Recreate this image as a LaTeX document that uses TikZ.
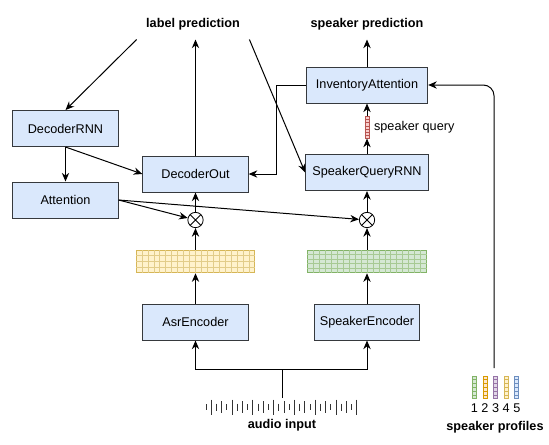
\documentclass[tikz,border=0pt]{standalone}
\usepackage{fontspec}
\setmainfont{Liberation Sans}
\usetikzlibrary{arrows.meta,calc}
\definecolor{boxbg}{HTML}{DAE8FC}
\definecolor{boxln}{HTML}{36393D}
\definecolor{ylwbg}{HTML}{FFF2CC}
\definecolor{ylwln}{HTML}{D6B656}
\definecolor{grnbg}{HTML}{D5E8D4}
\definecolor{grnln}{HTML}{82B366}
\definecolor{redbg}{HTML}{F8CECC}
\definecolor{redln}{HTML}{B85450}
\definecolor{orgbg}{HTML}{FFE6CC}
\definecolor{orgln}{HTML}{D79B00}
\definecolor{purbg}{HTML}{E1D5E7}
\definecolor{purln}{HTML}{9673A6}
\definecolor{blubg}{HTML}{DAE8FC}
\definecolor{bluln}{HTML}{6C8EBF}
\tikzset{
  blk/.style={draw=boxln,fill=boxbg,line width=0.75pt,minimum width=79pt,minimum height=27pt,inner sep=2pt,font=\fontsize{9.5}{11}\selectfont},
  ttl/.style={font=\bfseries\fontsize{9.5}{11}\selectfont,inner sep=7pt},
  txt/.style={font=\fontsize{9.5}{11}\selectfont},
  arr/.style={-{Stealth[length=6.5pt,width=5.5pt]},line width=0.75pt},
  cell/.style={draw=#1ln,fill=#1bg,line width=0.6pt,inner sep=0pt},
  mult/.style={draw,circle,line width=0.6pt,minimum size=11.5pt,inner sep=0pt,
    path picture={\draw (path picture bounding box.north west)--(path picture bounding box.south east)
      (path picture bounding box.north east)--(path picture bounding box.south west);}}
}
\begin{document}
\begin{tikzpicture}[x=0.75pt,y=-0.75pt]
\useasboundingbox (0,0) rectangle (549,444);
\node[ttl] (lp) at (193,24) {label prediction};
\node[ttl] (sp) at (367,24) {speaker prediction};
\node[blk] (drnn) at (65.5,128.5) {DecoderRNN};
\node[blk] (att) at (65.5,200) {Attention};
\node[blk] (dout) at (195.5,174) {DecoderOut};
\node[blk,minimum width=91pt] (inv) at (367,85) {InventoryAttention};
\node[blk,minimum width=92pt] (sqrnn) at (367,172.5) {SpeakerQueryRNN};
\node[blk] (asrenc) at (195.5,322) {AsrEncoder};
\node[blk] (spkenc) at (367,322) {SpeakerEncoder};
\node[mult] (ot1) at (195.5,220) {};
\node[mult] (ot2) at (367,220) {};
\node[cell=ylw,minimum width=88.5pt,minimum height=17pt] (asrf) at (195.5,261.5) {};
\foreach \i in {1,...,19} \draw[draw=ylwln!70,line width=0.6pt] ($(asrf.south west)!{\i/20}!(asrf.south east)$) -- ($(asrf.north west)!{\i/20}!(asrf.north east)$);
\foreach \j in {1,2,3} \draw[draw=ylwln!70,line width=0.6pt] ($(asrf.south west)!{\j/4}!(asrf.north west)$) -- ($(asrf.south east)!{\j/4}!(asrf.north east)$);
\node[cell=grn,minimum width=89pt,minimum height=17pt] (spkf) at (367,261.5) {};
\foreach \i in {1,...,19} \draw[draw=grnln!70,line width=0.6pt] ($(spkf.south west)!{\i/20}!(spkf.south east)$) -- ($(spkf.north west)!{\i/20}!(spkf.north east)$);
\foreach \j in {1,...,4} \draw[draw=grnln!70,line width=0.6pt] ($(spkf.south west)!{\j/5}!(spkf.north west)$) -- ($(spkf.south east)!{\j/5}!(spkf.north east)$);
\node[cell=red,minimum width=3pt,minimum height=16pt] (sq) at (367,127.5) {};
\foreach \j in {1,...,6} \draw[draw=redln,line width=0.5pt] ($(sq.south west)!{\j/7}!(sq.north west)$) -- ($(sq.south east)!{\j/7}!(sq.north east)$);
\node[txt,right] (sql) at (sq.east) {speaker query};
\foreach \c [count=\k] in {grn,org,pur,ylw,blu} {
  \node[cell=\c,minimum width=3pt,minimum height=17pt] (pr\k) at (463.8+10.6*\k,387.5) {};
  \foreach \j in {1,...,5} \draw[draw=\c ln,line width=0.5pt] ($(pr\k.south west)!{\j/6}!(pr\k.north west)$) -- ($(pr\k.south east)!{\j/6}!(pr\k.north east)$);
  \node[txt,inner sep=0pt] (n\k) at (463.8+10.6*\k,408) {\k};
}
\node[ttl,inner sep=0pt] (spf) at (495,427) {speaker profiles};
\foreach \k in {0,...,29} {
  \pgfmathsetmacro\h{{6,15,7,12}[int(mod(\k,4))]}
  \draw[line width=0.75pt,black!80] (206+5.2*\k,407-\h/2) -- ++(0,\h);
}
\node[ttl,inner sep=0pt] (ai) at (282,425) {audio input};
\coordinate (wv) at (282,398);
\coordinate (jn) at (282,369);
\coordinate (pf) at (494,368);
\draw[arr] (lp.south west) -- (drnn.north);
\draw[arr] (lp.south east) -- (sqrnn.west);
\draw[arr] (dout) -- (dout |- lp.south);
\draw[arr] (inv) -- (inv |- sp.south);
\draw[arr] (drnn) -- (att);
\draw[arr] (drnn.south) -- (dout.west);
\draw[arr] (att.east) -- (ot1);
\draw[arr] (att.east) -- (ot2);
\draw[arr] (ot1) -- (dout);
\draw[arr] (asrf) -- (ot1);
\draw[arr] (asrenc) -- (asrf);
\draw[arr] (ot2) -- (sqrnn);
\draw[arr] (spkf) -- (ot2);
\draw[arr] (spkenc) -- (spkf);
\draw[arr] (sqrnn) -- (sq);
\draw[arr] (sq) -- (inv);
\draw[arr] (inv.west) -- ++(-29,0) |- (dout.east);
\draw[line width=0.75pt] (wv) -- (jn);
\draw[arr] (jn) -| (asrenc.south);
\draw[arr] (jn) -| (spkenc.south);
\draw[arr,rounded corners=8pt] (pf) |- (inv.east);
\end{tikzpicture}
\end{document}
